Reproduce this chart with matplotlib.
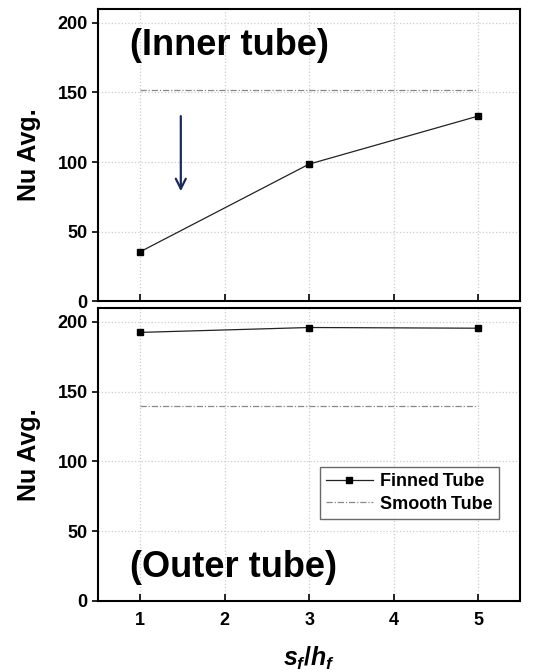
import numpy as np
import matplotlib.pyplot as plt

plt.rcParams['font.family'] = ['Liberation Sans', 'DejaVu Sans']
plt.rcParams['font.weight'] = 'bold'
plt.rcParams['mathtext.fontset'] = 'custom'
plt.rcParams['mathtext.it'] = 'Liberation Sans:italic:bold'
plt.rcParams['mathtext.rm'] = 'Liberation Sans:bold'

# dados
sf_hf = [1, 3, 5]
nu_inner_finned = [35.5, 98.5, 133]
nu_inner_smooth = [151.5, 151.5, 151.5]
nu_outer_finned = [192.5, 196, 195.5]
nu_outer_smooth = [140, 140, 140]

fig = plt.figure(figsize=(5.33, 6.72), dpi=100)
ax1 = fig.add_axes([0.184, 0.552, 0.792, 0.4345])
ax2 = fig.add_axes([0.184, 0.1057, 0.792, 0.436])

smooth_ls = (0, (5, 1.5, 1, 1.5))

for ax, fin, smo in [(ax1, nu_inner_finned, nu_inner_smooth),
                     (ax2, nu_outer_finned, nu_outer_smooth)]:
    ax.plot(sf_hf, fin, '-', color='#222222', lw=0.9, marker='s', ms=4,
            mfc='black', mec='black', label='Finned\u2009Tube')
    ax.plot(sf_hf, smo, linestyle=smooth_ls, color='#888888', lw=0.9,
            label='Smooth\u2009Tube')
    ax.set_xlim(0.5, 5.5)
    ax.set_ylim(0, 210)
    ax.set_xticks([1, 2, 3, 4, 5])
    ax.set_yticks([0, 50, 100, 150, 200])
    ax.grid(True, linestyle=':', color='#cccccc', lw=0.9)
    ax.tick_params(axis='x', direction='in', length=5, width=1.2, labelsize=13, pad=8)
    ax.tick_params(axis='y', direction='out', length=4, width=1.2, labelsize=13)
    for s in ax.spines.values():
        s.set_linewidth(1.5)
    ax.set_ylabel('Nu Avg.', fontsize=18, fontweight='bold', labelpad=12)

ax1.tick_params(axis='x', labelbottom=False)
ax1.text(0.88, 184, '(Inner tube)', fontsize=26, fontweight='bold', va='center')
ax1.annotate('', xy=(1.48, 77), xytext=(1.48, 135),
             arrowprops=dict(arrowstyle='->', color='#1a2a5e', lw=1.6,
                             mutation_scale=18))

ax2.text(0.88, 24, '(Outer tube)', fontsize=26, fontweight='bold', va='center')
ax2.set_xlabel('$s_f/h_f$', fontsize=18, labelpad=11)
leg = ax2.legend(loc='lower right', bbox_to_anchor=(0.95, 0.28), fontsize=13,
                 frameon=True, fancybox=False, edgecolor='#444444',
                 handlelength=2.6, borderpad=0.35, labelspacing=0.3,
                 handletextpad=0.4, borderaxespad=0)
leg.get_frame().set_linewidth(1.0)

plt.savefig('out.png', dpi=100)
